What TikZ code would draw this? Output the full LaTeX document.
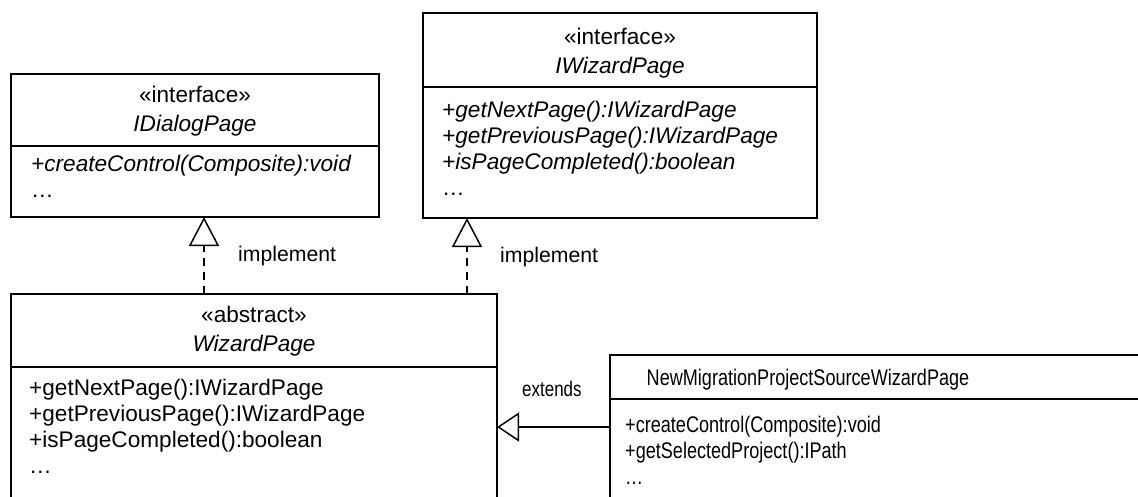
\documentclass[tikz,border=0pt]{standalone}
\usepackage{fontspec}
\setmainfont{Liberation Sans}
\usepackage{graphicx}
\usetikzlibrary{arrows.meta}

\tikzset{
  classbox/.style={draw, line width=1.5pt, rectangle, inner sep=0pt, outer sep=0pt},
  divider/.style={line width=1.5pt},
  member/.style={anchor=base west, inner sep=0pt, font=\fontsize{22.6}{26}\selectfont},
  heading/.style={anchor=base, inner sep=0pt, font=\fontsize{22.6}{29}\selectfont},
  lbl/.style={anchor=base west, inner sep=0pt, font=\fontsize{21.2}{25}\selectfont},
  realize/.style={line width=1.5pt, dash pattern=on 8pt off 6pt,
    -{Triangle[open,length=29pt,width=30pt,line width=1.5pt]}},
  generalize/.style={line width=1.5pt,
    -{Triangle[open,length=22pt,width=29pt,line width=1.5pt]}},
}
% narrow setting for the text of the subclass and its label
\newcommand{\squeeze}[1]{\scalebox{0.8}[1]{#1}}

\begin{document}
\begin{tikzpicture}[x=1pt,y=-1pt]
  \useasboundingbox (0,0) rectangle (1138,496);
  \clip (0,0) rectangle (1138,496);

  % class frames
  \node[classbox, minimum width=368pt, minimum height=143pt] (idlg) at (195,145.5) {};
  \node[classbox, minimum width=394pt, minimum height=205pt] (iwiz) at (620,115.5) {};
  \node[classbox, minimum width=486pt, minimum height=216pt] (wp)   at (254,402) {};
  \node[classbox, minimum width=540pt, minimum height=155pt] (nm)   at (880,432.5) {};

  % compartment dividers
  \coordinate (dv1) at (0,146);
  \coordinate (dv2) at (0,87);
  \coordinate (dv3) at (0,367);
  \coordinate (dv4) at (0,399);
  \draw[divider] (idlg.west |- dv1) -- (idlg.east |- dv1);
  \draw[divider] (iwiz.west |- dv2) -- (iwiz.east |- dv2);
  \draw[divider] (wp.west |- dv3) -- (wp.east |- dv3);
  \draw[divider] (nm.west |- dv4) -- (nm.east |- dv4);

  % IDialogPage
  \node[heading] (idlgT) at (195,102)
    {\begin{tabular}[t]{@{}c@{}}«interface»\\\textit{IDialogPage}\end{tabular}};
  \node[member] (idlgM) at (31,171)
    {\begin{tabular}[t]{@{}l@{}}\textit{+createControl(Composite):void}\\…\end{tabular}};

  % IWizardPage
  \node[heading] (iwizT) at (620,44)
    {\begin{tabular}[t]{@{}c@{}}«interface»\\\textit{IWizardPage}\end{tabular}};
  \node[member] (iwizM) at (442,117)
    {\begin{tabular}[t]{@{}l@{}}\textit{+getNextPage():IWizardPage}\\
     \textit{+getPreviousPage():IWizardPage}\\
     \textit{+isPageCompleted():boolean}\\…\end{tabular}};

  % WizardPage
  \node[heading] (wpT) at (254,322)
    {\begin{tabular}[t]{@{}c@{}}«abstract»\\\textit{WizardPage}\end{tabular}};
  \node[member] (wpM) at (29,395)
    {\begin{tabular}[t]{@{}l@{}}+getNextPage():IWizardPage\\
     +getPreviousPage():IWizardPage\\
     +isPageCompleted():boolean\\…\end{tabular}};

  % NewMigrationProjectSourceWizardPage
  \node[heading] (nmT) at (808,385) {\squeeze{NewMigrationProjectSourceWizardPage}};
  \node[member] (nmM) at (625,432)
    {\squeeze{\begin{tabular}[t]{@{}l@{}}+createControl(Composite):void\\
     +getSelectedProject():IPath\\…\end{tabular}}};

  % realizations
  \coordinate (r1) at (204,0);
  \coordinate (r2) at (467,0);
  \draw[realize] (wp.north -| r1) -- (idlg.south -| r1);
  \draw[realize] (wp.north -| r2) -- (iwiz.south -| r2);
  \node[lbl] (lr1) at (238,261) {implement};
  \node[lbl] (lr2) at (500,262) {implement};

  % generalization
  \coordinate (g1) at (0,427);
  \draw[generalize] (nm.west |- g1) -- (wp.east |- g1);
  \node[lbl] (lg) at (522,396) {\squeeze{extends}};
\end{tikzpicture}
\end{document}
